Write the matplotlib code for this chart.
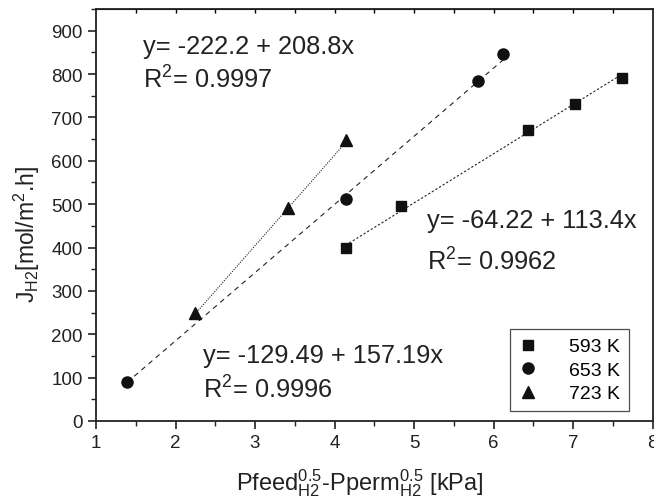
import numpy as np
import matplotlib
matplotlib.use("Agg")
import matplotlib.pyplot as plt
from matplotlib.ticker import MultipleLocator

plt.rcParams['font.family'] = ['Liberation Sans', 'DejaVu Sans']
plt.rcParams['mathtext.fontset'] = 'custom'
plt.rcParams['mathtext.rm'] = 'Liberation Sans'
plt.rcParams['mathtext.it'] = 'Liberation Sans'
plt.rcParams['mathtext.default'] = 'regular'

# data
x593 = [4.14, 4.84, 6.43, 7.03, 7.62]
y593 = [400, 495, 670, 730, 790]
x653 = [1.39, 4.14, 5.81, 6.12]
y653 = [90, 511, 785, 846]
x723 = [2.245, 3.42, 4.14]
y723 = [250, 491, 649]
labels = ['593 K', '653 K', '723 K']
eq593 = ['y= -64.22 + 113.4x', 'R$^2$= 0.9962']
eq653 = ['y= -129.49 + 157.19x', 'R$^2$= 0.9996']
eq723 = ['y= -222.2 + 208.8x', 'R$^2$= 0.9997']
coef593 = (-64.22, 113.4)
coef653 = (-129.49, 157.19)
coef723 = (-222.2, 208.8)

fig = plt.figure(figsize=(6.54, 5.02), dpi=100)
ax = fig.add_axes([0.1468, 0.1594, 0.851, 0.8207])

def fitline(xs, coef, ls):
    xx = np.array([min(xs), max(xs)])
    ax.plot(xx, coef[0] + coef[1] * xx, color='#222222', lw=0.8, linestyle=ls, zorder=1)

fitline(x593, coef593, (0, (2.0, 1.8)))
fitline(x653, coef653, (0, (4.5, 4)))
fitline(x723, coef723, (0, (1.0, 1.2)))

ax.plot(x593, y593, 's', color='#111111', ms=7, ls='none', label=labels[0], zorder=3)
ax.plot(x653, y653, 'o', color='#111111', ms=8, ls='none', label=labels[1], zorder=3)
ax.plot(x723, y723, '^', color='#111111', ms=8.5, ls='none', label=labels[2], zorder=3)

ax.set_xlim(1, 8)
ax.set_ylim(0, 950)
ax.xaxis.set_major_locator(MultipleLocator(1))
ax.xaxis.set_minor_locator(MultipleLocator(0.5))
ax.set_yticks(np.arange(0, 901, 100))
ax.yaxis.set_minor_locator(MultipleLocator(50))
ax.tick_params(which='major', direction='out', length=6, width=1.2, labelsize=13.5, colors='#222222')
ax.tick_params(which='minor', direction='out', length=3.5, width=1.0, colors='#222222')
ax.tick_params(axis='x', which='both', top=False)
ax.tick_params(axis='y', which='both', right=False)
for s in ax.spines.values():
    s.set_linewidth(1.3)
    s.set_color('#222222')

sec = ax.secondary_xaxis('top')
sec.set_xticks(np.arange(1.5, 8, 0.5))
sec.tick_params(direction='in', length=3, width=1.0, labeltop=False)
sec.set_xticklabels([])

fs = 18.3
for lines, xs, ys in [(eq723, 1.59, (849, 769)), (eq593, 5.16, (447, 350)), (eq653, 2.35, (136, 55))]:
    for t, yy in zip(lines, ys):
        ax.text(xs, yy, t, fontsize=fs, color='#222222', va='baseline', ha='left')

leg = ax.legend(loc='lower right', bbox_to_anchor=(0.957, 0.024), fontsize=14, frameon=True,
                fancybox=False, edgecolor='#222222', handletextpad=1.6, borderpad=0.45,
                labelspacing=0.3, handlelength=1.0, borderaxespad=0)
leg.get_frame().set_linewidth(0.9)

ax.set_xlabel('Pfeed$^{0.5}_{H2}$-Pperm$^{0.5}_{H2}$ [kPa]', fontsize=17, color='#222222')
ax.xaxis.set_label_coords(0.474, -0.11)
ax.set_ylabel('J$_{H2}$[mol/m$^2$.h]', fontsize=16.5, color='#222222')
ax.yaxis.set_label_coords(-0.097, 0.455)

fig.savefig('out.png', dpi=100)
